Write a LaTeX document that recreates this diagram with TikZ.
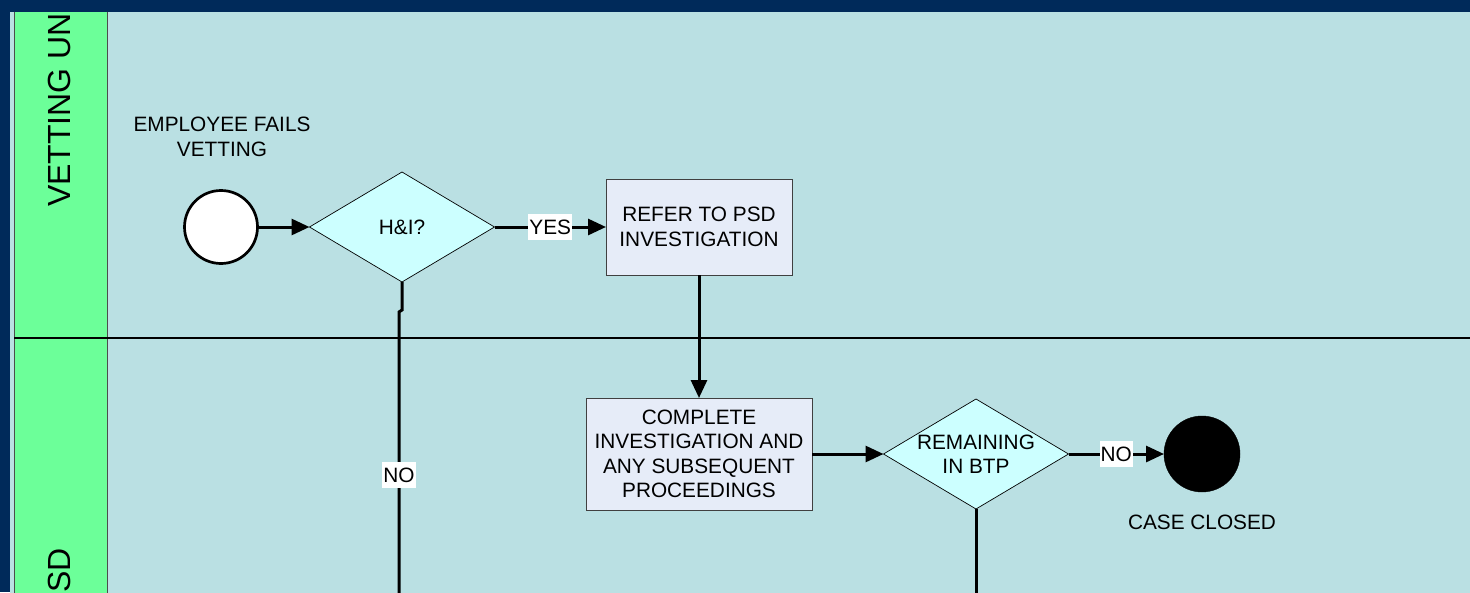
\documentclass[tikz,border=0pt]{standalone}
\usepackage{fontspec}
\setmainfont{Liberation Sans}
\usetikzlibrary{arrows.meta,shapes.geometric}
\definecolor{navy}{RGB}{0,42,90}
\definecolor{lanebg}{RGB}{186,224,227}
\definecolor{lanehd}{RGB}{108,255,153}
\definecolor{dia}{RGB}{204,255,255}
\definecolor{boxc}{RGB}{230,236,248}
\begin{document}
\begin{tikzpicture}[x=1pt,y=-1pt,
  txt/.style={font=\fontsize{20.8}{24.5}\selectfont, align=center, text=black},
  lanelbl/.style={font=\fontsize{32}{36}\selectfont, rotate=90, inner sep=0pt},
  taskbox/.style={txt, draw=black!75, line width=0.8pt, fill=boxc, inner sep=0pt, outer sep=0pt},
  decision/.style={diamond, draw=black, line width=0.7pt, fill=dia, inner sep=0pt, outer sep=0pt, minimum width=185pt, minimum height=110pt},
  startev/.style={circle, draw=black, line width=2.7pt, fill=white, minimum size=73pt, inner sep=0pt, outer sep=0pt},
  endev/.style={circle, draw=black, fill=black, minimum size=76pt, inner sep=0pt, outer sep=0pt},
  conn/.style={line width=3pt, -{Triangle[length=18pt,width=16pt]}},
  plainconn/.style={line width=3pt},
  lbl/.style={txt, fill=white, inner xsep=1pt, inner ysep=0pt, minimum height=26pt}
]
\useasboundingbox (0,0) rectangle (1470,592);
\fill[navy] (0,0) rectangle (1470,592);
\begin{scope}
\clip (10,12) rectangle (1470,592);
% lanes
\fill[lanebg] (10,12) rectangle (1470,600);
\fill[lanehd] (14,12) rectangle (107,600);
\draw[black!70, line width=0.9pt] (14,12) -- (14,600);
\draw[black!70, line width=0.9pt] (107,12) -- (107,600);
\draw[black, line width=1.3pt] (14,338) -- (1470,338);
\node[lanelbl, anchor=west] (lane1) at (59,207) {VETTING UNIT};
\node[lanelbl, anchor=east] (lane2) at (59,548) {PSD};

% nodes
\node[startev] (start) at (221,227) {};
\node[txt] (startlbl) at (222,137) {EMPLOYEE FAILS\\VETTING};
\node[decision] (hi) at (402,227) {};
\node[txt] (hitxt) at (402,227) {H\&I?};
\node[taskbox, minimum width=186pt, minimum height=96pt] (refer) at (699,227) {REFER TO PSD\\INVESTIGATION};
\node[taskbox, minimum width=226pt, minimum height=112pt] (complete) at (699,454) {COMPLETE\\INVESTIGATION AND\\ANY SUBSEQUENT\\PROCEEDINGS};
\node[decision] (btp) at (976,454) {};
\node[txt] (btptxt) at (976,454) {REMAINING\\IN BTP};
\node[endev] (end) at (1202,454) {};
\node[txt] (endlbl) at (1202,522) {CASE CLOSED};
\coordinate (hinobot) at (399,600);
\coordinate (btpbot) at (976,600);

% connectors
\draw[conn] (start.east) -- (hi.west);
\draw[conn] (hi.east) -- node[lbl] (yes) {YES} (refer.west);
\draw[conn] (refer.south) -- (complete.north);
\draw[conn] (complete.east) -- (btp.west);
\draw[conn] (btp.east) -- node[lbl] (no2) {NO} (end.west);
\draw[plainconn] (hi.south) -- ++(0,28) -- ++(-3,2) -- node[lbl, pos=0.566] (no1) {NO} (hinobot);
\draw[plainconn] (btp.south) -- (btpbot);
\end{scope}
\end{tikzpicture}
\end{document}
